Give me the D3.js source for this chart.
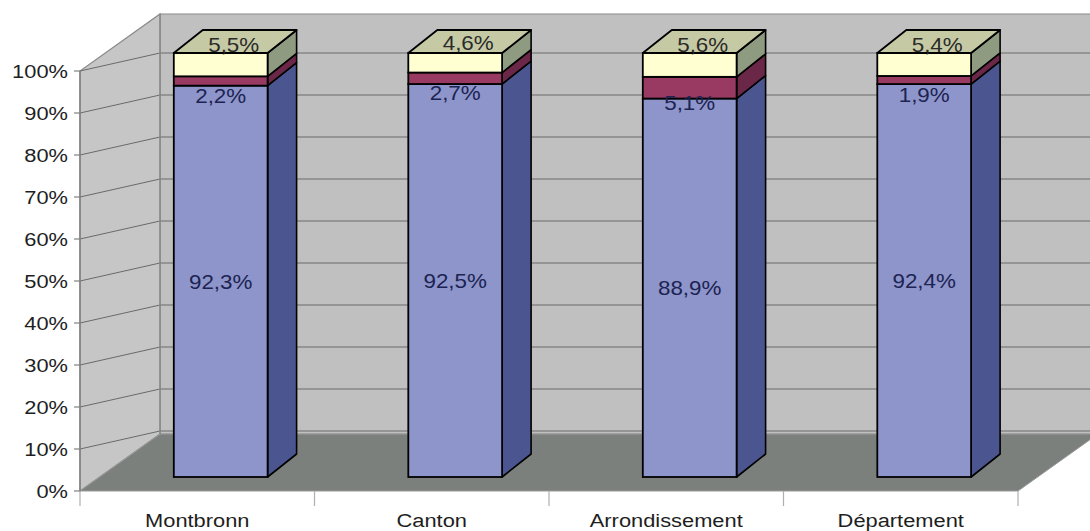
<!DOCTYPE html>
<html>
<head>
<meta charset="utf-8">
<script src="https://cdn.jsdelivr.net/npm/d3@7"></script>
<style>
html,body{margin:0;padding:0;background:#fff;}
svg{display:block;}
text{font-family:"Liberation Sans",Arial,sans-serif;}
</style>
</head>
<body>
<svg id="chart" width="1090" height="531"></svg>
<script>
// ---- data ----
const categories = ["Montbronn", "Canton", "Arrondissement", "Département"];
const seriesNames = ["s1", "s2", "s3"];
const blueValues = [92.3, 92.5, 88.9, 92.4];
const redValues = [2.2, 2.7, 5.1, 1.9];
const yellowValues = [5.5, 4.6, 5.6, 5.4];
const yTicks = [0, 10, 20, 30, 40, 50, 60, 70, 80, 90, 100];
const yTickLabels = ["0%", "10%", "20%", "30%", "40%", "50%", "60%", "70%", "80%", "90%", "100%"];

// ---- layout ----
const svg = d3.select("#chart");
const W = 1090, H = 531;
const frontLeft = 80, frontRight = 1018;
const wallDX = 80, wallDY = -57;
const barDX = 29, barDY = -23;

const x = d3.scaleBand().domain(categories).range([frontLeft, frontRight]);
const yFront = d3.scaleLinear().domain([0, 100]).range([491, 71]);
const yBack = d3.scaleLinear().domain([0, 100]).range([473, 53]);
const yBar = d3.scaleLinear().domain([0, 100]).range([477, 53]);

const wallTop = yFront(100) + wallDY;
const floorBack = yFront(0) + wallDY;
const backLeft = frontLeft + wallDX;

const fmt = v => d3.format(".1f")(v).replace(".", ",") + "%";

function stretchText(g, tx, ty, str, opts) {
  const t = g.append("text")
    .attr("transform", `translate(${tx},${ty}) scale(${opts.sx || 1.15},1)`)
    .attr("text-anchor", opts.anchor || "middle")
    .attr("font-size", opts.size || 19)
    .attr("fill", opts.fill || "#222")
    .text(str);
  if (opts.dy) t.attr("dy", opts.dy);
  return t;
}

// back wall
svg.append("polygon")
  .attr("points", [[backLeft, wallTop], [W + 10, wallTop], [W + 10, floorBack], [backLeft, floorBack]].join(" "))
  .attr("fill", "#c0c0c0").attr("stroke", "#8a8a8a").attr("stroke-width", 1.2);

// left wall
svg.append("polygon")
  .attr("points", [[frontLeft, yFront(0)], [frontLeft, yFront(100)], [backLeft, wallTop], [backLeft, floorBack]].join(" "))
  .attr("fill", "#c6c6c6").attr("stroke", "#8a8a8a").attr("stroke-width", 1.2);

// gridlines
const gridVals = yTicks.filter(v => v > 0);
svg.append("g").selectAll("line.back").data(gridVals).join("line")
  .attr("x1", backLeft).attr("x2", W + 10)
  .attr("y1", d => yBack(d)).attr("y2", d => yBack(d))
  .attr("stroke", "#6a6a6a").attr("stroke-width", 1);
svg.append("g").selectAll("line.side").data(gridVals).join("line")
  .attr("x1", frontLeft).attr("x2", backLeft)
  .attr("y1", d => yFront(d)).attr("y2", d => yBack(d))
  .attr("stroke", "#6a6a6a").attr("stroke-width", 1);

// floor
svg.append("polygon")
  .attr("points", [[frontLeft, yFront(0)], [frontRight, yFront(0)], [frontRight + wallDX, floorBack], [backLeft, floorBack]].join(" "))
  .attr("fill", "#7c807d").attr("stroke", "#9a9a9a").attr("stroke-width", 1);

// wall corner line
svg.append("line").attr("x1", backLeft).attr("x2", backLeft)
  .attr("y1", wallTop).attr("y2", floorBack).attr("stroke", "#8a8a8a").attr("stroke-width", 1.2);

// y axis
svg.append("line").attr("x1", frontLeft).attr("x2", frontLeft)
  .attr("y1", yFront(0)).attr("y2", yFront(100)).attr("stroke", "#808080").attr("stroke-width", 1.5);
const yAx = svg.append("g");
yTicks.forEach((v, i) => {
  yAx.append("line").attr("x1", frontLeft - 6).attr("x2", frontLeft)
    .attr("y1", yFront(v)).attr("y2", yFront(v)).attr("stroke", "#808080").attr("stroke-width", 1.2);
  stretchText(yAx, frontLeft - 12, yFront(v), yTickLabels[i], { anchor: "end", size: 19, sx: 1.15, dy: "0.36em", fill: "#1e1e1e" });
});

// category ticks & labels
const catTicks = categories.map(c => x(c)).concat([frontRight]);
svg.append("g").selectAll("line").data(catTicks).join("line")
  .attr("x1", d => d).attr("x2", d => d)
  .attr("y1", yFront(0)).attr("y2", yFront(0) + 15)
  .attr("stroke", "#b0b0b0").attr("stroke-width", 1.2);
const catG = svg.append("g");
categories.forEach(c => {
  stretchText(catG, x(c) + x.bandwidth() / 2, 527, c, { size: 19, sx: 1.15, fill: "#1e1e1e" });
});

// bars
const series = [
  { values: blueValues, front: "#8d95cb", side: "#4b5690", label: "#1d2352" },
  { values: redValues, front: "#993a63", side: "#6b2747", label: "#1d2352" },
  { values: yellowValues, front: "#ffffd2", side: "#8e9b80", top: "#c6caa4", label: "#2a2a2a" }
];
const barW = x.bandwidth() * 0.4;
const barOff = x.bandwidth() * 0.1;
const barsG = svg.append("g");
const labelsG = svg.append("g");

categories.forEach((c, i) => {
  const total = series.reduce((s, se) => s + se.values[i], 0);
  const cx = x(c) + x.bandwidth() / 2 + barOff;
  const x0 = cx - barW / 2, x1 = cx + barW / 2;
  let cum = 0;
  series.forEach((se, k) => {
    const v0 = cum / total * 100;
    cum += se.values[i];
    const v1 = cum / total * 100;
    const yb = yBar(v0), yt = yBar(v1);
    // side face
    barsG.append("polygon")
      .attr("points", [[x1, yb], [x1 + barDX, yb + barDY], [x1 + barDX, yt + barDY], [x1, yt]].join(" "))
      .attr("fill", se.side).attr("stroke", "#000").attr("stroke-width", 1.6).attr("stroke-linejoin", "round");
    // front face
    barsG.append("rect")
      .attr("x", x0).attr("y", yt).attr("width", barW).attr("height", yb - yt)
      .attr("fill", se.front).attr("stroke", "#000").attr("stroke-width", 1.8);
    if (se.top) {
      barsG.append("polygon")
        .attr("points", [[x0, yt], [x0 + barDX, yt + barDY], [x1 + barDX, yt + barDY], [x1, yt]].join(" "))
        .attr("fill", se.top).attr("stroke", "#000").attr("stroke-width", 1.8).attr("stroke-linejoin", "round");
    }
    // label
    const mid = (yb + yt) / 2;
    let lx = cx, ly = mid;
    if (k === 1) ly = mid + 15;
    if (k === 2) { ly = mid - 20; lx = cx + 13; }
    stretchText(labelsG, lx, ly, fmt(se.values[i]), { size: 20, sx: 1.12, dy: "0.36em", fill: se.label });
  });
});
</script>
</body>
</html>
